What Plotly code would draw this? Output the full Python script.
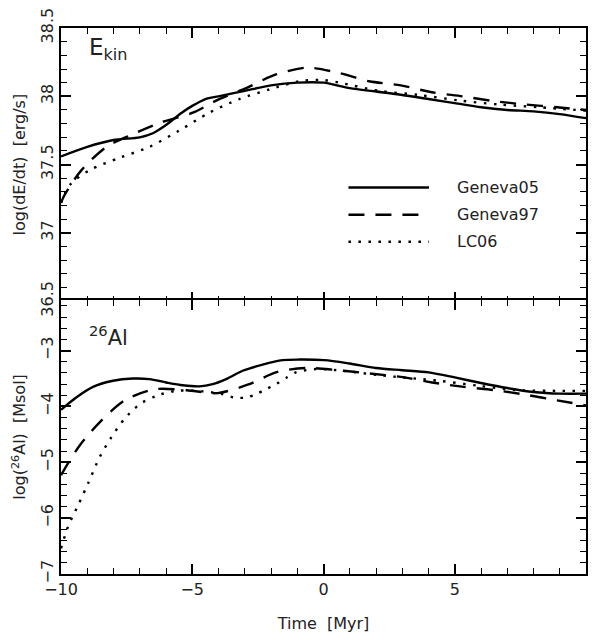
import plotly.graph_objects as go

# ---------------- data ----------------
# Top panel: log(dE/dt) [erg/s]
t_g05_top = [-10, -9, -8, -7, -6.5, -6, -5.4, -5, -4.5, -4, -3, -2, -1, 0, 1, 2, 3, 4, 5, 6, 7, 8, 9, 10]
e_g05 = [37.56, 37.63, 37.68, 37.70, 37.73, 37.79, 37.88, 37.93, 37.98, 38.00, 38.04, 38.08, 38.10, 38.10,
         38.06, 38.035, 38.01, 37.98, 37.95, 37.92, 37.90, 37.89, 37.87, 37.84]

t_g97_top = [-10, -9.86, -9.22, -8.27, -7.3, -6.18, -4.98, -3.97, -2.95, -1.81, -0.6, 0.6, 1.74, 2.94,
             4.12, 5.29, 6.49, 7.7, 8.9, 10]
e_g97 = [37.22, 37.28, 37.46, 37.63, 37.72, 37.81, 37.88, 37.98, 38.06, 38.16, 38.21, 38.17, 38.11, 38.08,
         38.03, 38.0, 37.965, 37.94, 37.92, 37.90]

t_lc_top = [-10, -9.67, -8.91, -7.77, -6.63, -5.49, -4.35, -3.21, -2.06, -0.93, -0.04, 0.6, 2.12, 3.64,
            5.16, 6.69, 8.21, 10]
e_lc = [37.22, 37.35, 37.46, 37.55, 37.63, 37.75, 37.88, 37.98, 38.05, 38.11, 38.12, 38.10, 38.04, 38.01,
        37.97, 37.94, 37.92, 37.895]

# Bottom panel: log(26Al) [Msol]
t_g05_bot = [-10, -9.42, -8.78, -8.02, -7.26, -6.63, -5.99, -5.36, -4.73, -4.22, -3.71, -3.08, -2.32, -1.56,
             -0.92, 0.03, 0.98, 2, 3, 4, 5, 6, 7, 8, 9, 10]
al_g05 = [-4.06, -3.84, -3.65, -3.54, -3.50, -3.51, -3.57, -3.62, -3.64, -3.60, -3.51, -3.36, -3.25, -3.17,
          -3.16, -3.17, -3.23, -3.31, -3.35, -3.39, -3.48, -3.58, -3.67, -3.74, -3.77, -3.77]

t_g97_bot = [-10, -9.7, -9.26, -8.5, -7.54, -6.4, -5.21, -4.03, -2.89, -1.75, -0.61, 0.53, 1.76, 2.94,
             4.14, 5.35, 6.55, 7.7, 8.9, 10]
al_g97 = [-5.23, -4.99, -4.68, -4.27, -3.88, -3.69, -3.71, -3.76, -3.61, -3.38, -3.31, -3.35, -3.41, -3.47,
          -3.57, -3.65, -3.71, -3.79, -3.89, -3.98]

t_lc_bot = [-10, -9.73, -9.35, -8.97, -8.53, -8.08, -7.58, -7.0, -6.37, -5.61, -4.6, -3.84, -3.4, -2.95,
            -2.57, -2.19, -1.81, -1.43, -1.05, -0.29, 0.72, 2.12, 4.4, 5.92, 7.44, 8.96, 10]
al_lc = [-6.54, -6.15, -5.77, -5.38, -4.91, -4.55, -4.22, -3.96, -3.81, -3.72, -3.73, -3.78, -3.84, -3.84,
         -3.78, -3.69, -3.60, -3.49, -3.39, -3.33, -3.36, -3.44, -3.54, -3.63, -3.71, -3.72, -3.72]

series_names = ["Geneva05", "Geneva97", "LC06"]

# ---------------- styling ----------------
FONT = "DejaVu Sans"
TXT = "#222"
LW = 2.4
styles = {
    "Geneva05": dict(color="black", width=LW, dash="solid"),
    "Geneva97": dict(color="black", width=LW, dash="16px,11px"),
    "LC06": dict(color="black", width=LW, dash="2.5px,7.5px"),
}

fig = go.Figure()

top = [(t_g05_top, e_g05), (t_g97_top, e_g97), (t_lc_top, e_lc)]
bot = [(t_g05_bot, al_g05), (t_g97_bot, al_g97), (t_lc_bot, al_lc)]
for name, (tx, ty) in zip(series_names, top):
    fig.add_trace(go.Scatter(x=tx, y=ty, mode="lines", line=dict(**styles[name], shape="spline", smoothing=0.8),
                             xaxis="x", yaxis="y", showlegend=False, hoverinfo="skip"))
for name, (tx, ty) in zip(series_names, bot):
    fig.add_trace(go.Scatter(x=tx, y=ty, mode="lines", line=dict(**styles[name], shape="spline", smoothing=0.8),
                             xaxis="x2", yaxis="y2", showlegend=False, hoverinfo="skip"))

split = 0.5008
d = 0.75 / 552.3  # overlap so the two boundary lines coincide
TICKC = "black"
common_ax = dict(showline=True, linecolor="black", linewidth=1.5, mirror="ticks", ticks="inside",
                 ticklen=10, tickwidth=1.5, tickcolor=TICKC, showgrid=False, zeroline=False,
                 tickmode="linear")
title_font = dict(family=FONT, size=16, color=TXT)

fig.update_layout(
    width=595, height=640,
    margin=dict(l=61.3, r=7.7, t=22, b=65.7),
    font=dict(family=FONT, size=16, color=TXT),
    plot_bgcolor="white",
    showlegend=False,
    xaxis=dict(**common_ax, range=[-10, 10], tick0=-10, dtick=5, showticklabels=False,
               minor=dict(dtick=1, tick0=-10, ticks="inside", ticklen=6, tickcolor=TICKC, tickwidth=1.3),
               anchor="y", domain=[0, 1]),
    yaxis=dict(**common_ax, range=[36.5, 38.5], tick0=36.5, dtick=0.5, tickangle=-90,
               minor=dict(dtick=0.1, tick0=36.5, ticks="inside", ticklen=6, tickcolor=TICKC, tickwidth=1.3),
               domain=[split - d, 1], anchor="x",
               title=dict(text="log(dE/dt)  [erg/s]", font=title_font, standoff=8)),
    xaxis2=dict(**common_ax, range=[-10, 10], tick0=-10, dtick=5,
                minor=dict(dtick=1, tick0=-10, ticks="inside", ticklen=6, tickcolor=TICKC, tickwidth=1.3),
                anchor="y2", domain=[0, 1],
                title=dict(text="Time  [Myr]", font=title_font, standoff=20)),
    yaxis2=dict(**common_ax, range=[-7, -2.09], tick0=-7, dtick=1, tickangle=-90,
                minor=dict(dtick=0.2, tick0=-7, ticks="inside", ticklen=6, tickcolor=TICKC, tickwidth=1.3),
                domain=[0, split + d], anchor="x2",
                title=dict(text="log(<sup>26</sup>Al)  [Msol]", font=title_font, standoff=8)),
)

# panel labels
fig.add_annotation(text="E<sub>kin</sub>", xref="paper", yref="paper", x=0.05, y=0.993,
                   xanchor="left", yanchor="top", showarrow=False, font=dict(family=FONT, size=23, color=TXT))
fig.add_annotation(text="<sup>26</sup>Al", xref="paper", yref="paper", x=0.05, y=0.466,
                   xanchor="left", yanchor="top", showarrow=False, font=dict(family=FONT, size=21, color=TXT))

# legend (drawn as decoration in the top panel)
leg_y = [0.708, 0.658, 0.6084]
for name, yy in zip(series_names, leg_y):
    st = styles[name]
    fig.add_shape(type="line", xref="paper", yref="paper", x0=0.5475, x1=0.701, y0=yy, y1=yy,
                  line=dict(color=st["color"], width=st["width"], dash=st["dash"]))
    fig.add_annotation(text=name, xref="paper", yref="paper", x=0.7504, y=yy, xanchor="left",
                       yanchor="middle", showarrow=False, font=dict(family=FONT, size=16, color=TXT))

fig.write_html("out.html")
